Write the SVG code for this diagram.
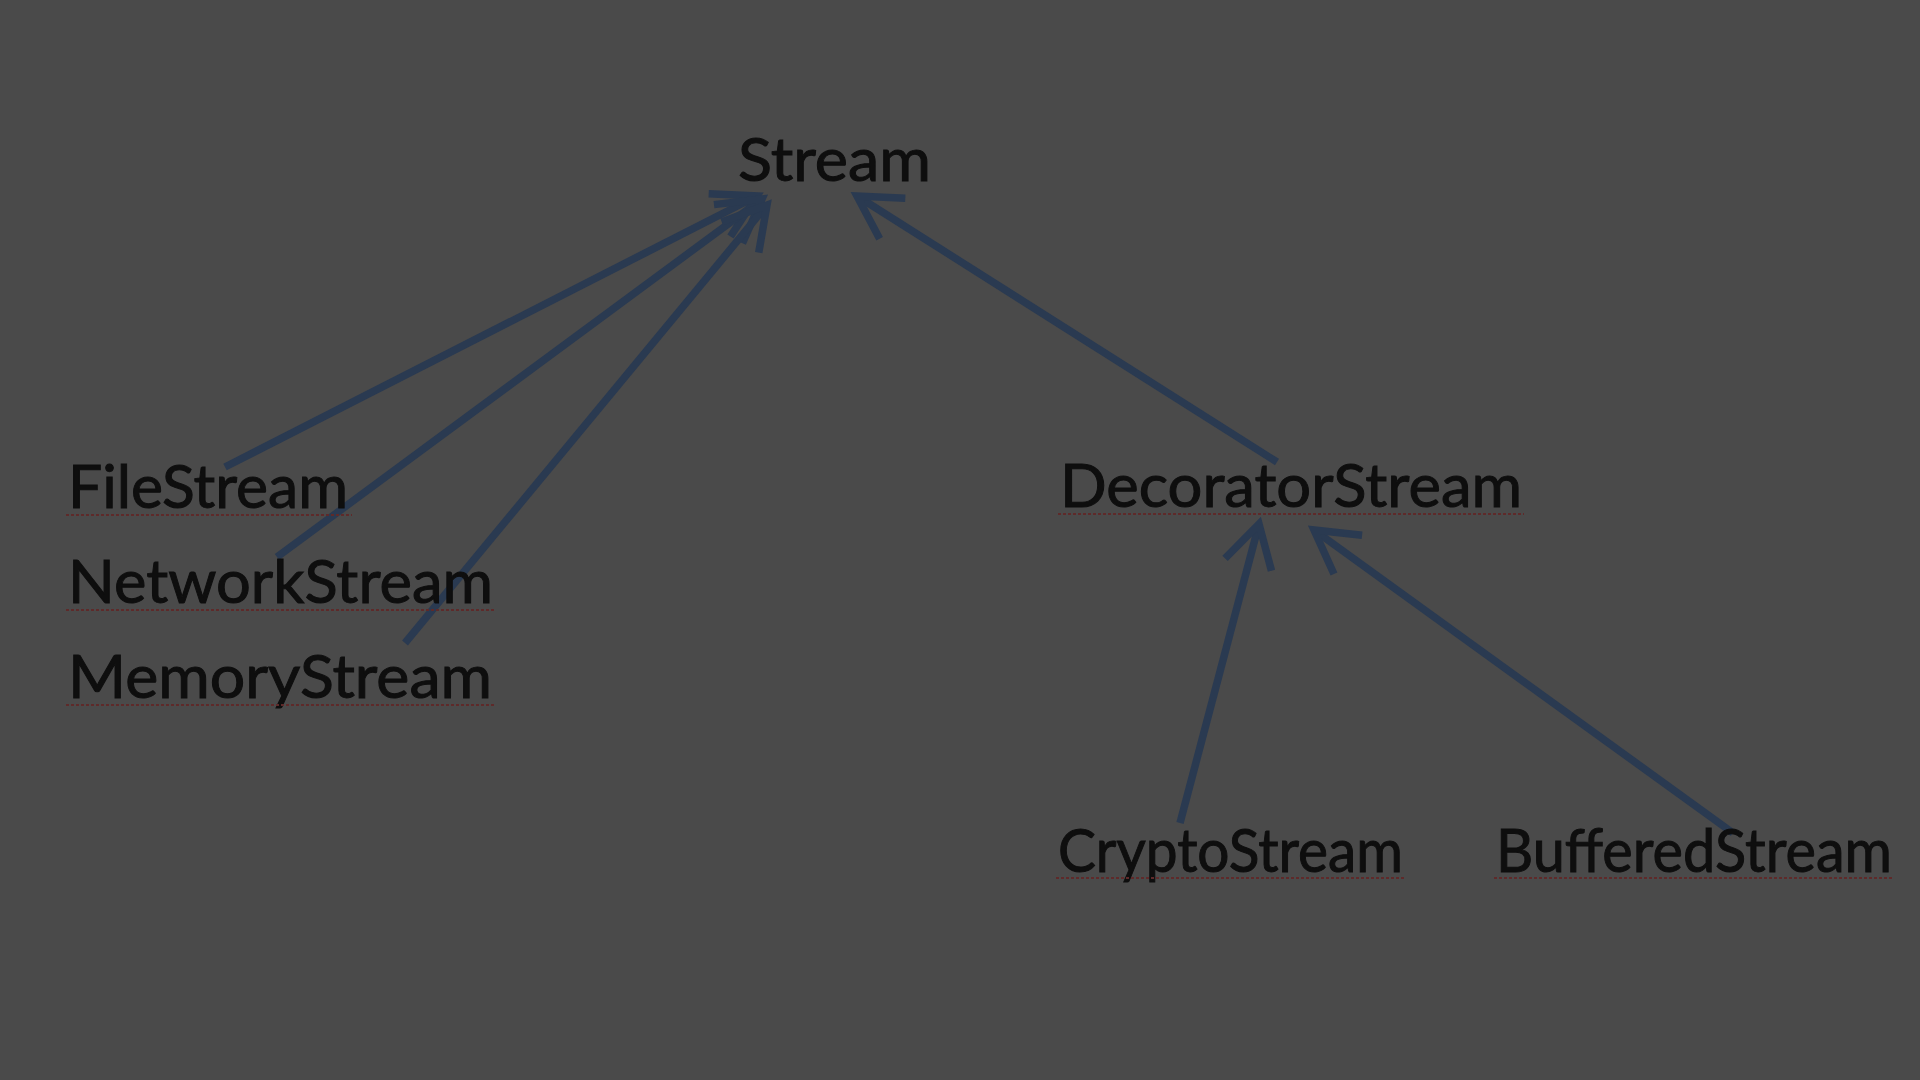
<svg xmlns="http://www.w3.org/2000/svg" width="1920" height="1080" viewBox="0 0 1920 1080">
<style>
.lbl{font-family:Lato,"Open Sans","Liberation Sans",sans-serif;font-size:60px;fill:#0e0e0e;stroke:#0e0e0e;stroke-width:1}
.sp{stroke:#5e2a2a;stroke-width:2;stroke-dasharray:3 2;fill:none}
.edge{stroke:#2a3a51;stroke-width:7.5;fill:none;marker-end:url(#arr)}
</style>
<defs>
<marker id="arr" markerUnits="userSpaceOnUse" markerWidth="100" markerHeight="100" refX="0" refY="0" orient="auto" overflow="visible" viewBox="-50 -50 100 100">
<path d="M-42,-24 L0,0 L-42,24" fill="none" stroke="#2a3a51" stroke-width="7.5" stroke-linejoin="miter"/>
</marker>
</defs>
<rect x="0" y="0" width="1920" height="1080" fill="#4a4a4a"/>
<g id="connectors">
<line class="edge" x1="225" y1="467" x2="757" y2="196"/>
<line class="edge" x1="277" y1="557" x2="762" y2="199"/>
<line class="edge" x1="405" y1="643" x2="767" y2="205"/>
<line class="edge" x1="1277" y1="462" x2="857" y2="196"/>
<line class="edge" x1="1180" y1="823" x2="1259" y2="524"/>
<line class="edge" x1="1733" y1="833" x2="1314" y2="530"/>
</g>
<g id="stream">
<text class="lbl" x="738" y="181" textLength="193" lengthAdjust="spacingAndGlyphs">Stream</text>
</g>
<g id="filestream">
<text class="lbl" x="68" y="508" textLength="280" lengthAdjust="spacingAndGlyphs">FileStream</text>
<line class="sp" x1="66" y1="515" x2="352" y2="515"/>
</g>
<g id="networkstream">
<text class="lbl" x="68" y="603" textLength="425" lengthAdjust="spacingAndGlyphs">NetworkStream</text>
<line class="sp" x1="66" y1="610" x2="495" y2="610"/>
</g>
<g id="memorystream">
<text class="lbl" x="68" y="698" textLength="424" lengthAdjust="spacingAndGlyphs">MemoryStream</text>
<line class="sp" x1="66" y1="705" x2="494" y2="705"/>
</g>
<g id="decoratorstream">
<text class="lbl" x="1060" y="507" textLength="462" lengthAdjust="spacingAndGlyphs">DecoratorStream</text>
<line class="sp" x1="1058" y1="514" x2="1524" y2="514"/>
</g>
<g id="cryptostream">
<text class="lbl" x="1058" y="872" textLength="345" lengthAdjust="spacingAndGlyphs">CryptoStream</text>
<line class="sp" x1="1056" y1="878" x2="1406" y2="878"/>
</g>
<g id="bufferedstream">
<text class="lbl" x="1496" y="872" textLength="396" lengthAdjust="spacingAndGlyphs">BufferedStream</text>
<line class="sp" x1="1494" y1="878" x2="1894" y2="878"/>
</g>
</svg>
